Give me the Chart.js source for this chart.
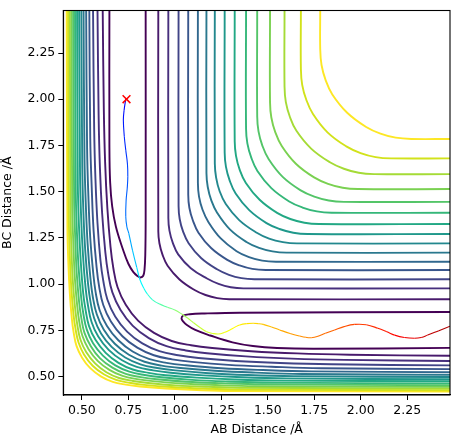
<!DOCTYPE html>
<html><head><meta charset="utf-8">
<script src="https://cdn.jsdelivr.net/npm/chart.js@4.4.1/dist/chart.umd.min.js"></script>
<style>html,body{margin:0;padding:0;background:#fff;}canvas{display:block;}</style>
</head><body>
<canvas id="c" width="465" height="445"></canvas>
<script>
// ---------------- data ----------------
const xTicks = [0.50, 0.75, 1.00, 1.25, 1.50, 1.75, 2.00, 2.25];
const yTicks = [0.50, 0.75, 1.00, 1.25, 1.50, 1.75, 2.00, 2.25];
const axisMin = 0.4, axisMax = 2.48;

const levelColors = ['#440154','#481a6c','#472f7d','#414487','#39568c','#31688e','#2a788e','#23888e',
                     '#1f988b','#22a884','#35b779','#54c568','#7ad151','#a5db36','#d2e21b','#fde725'];

// lowest contour level: two closed "U" pieces (entrance and exit valleys)
const lowEntranceX = [0.648,0.648,0.652,0.663,0.683,0.720,0.750,0.777,0.800,0.815,0.830,0.837,0.841,0.843,0.843];
const lowEntranceY = [2.48,1.75,1.55,1.42,1.31,1.19,1.11,1.065,1.043,1.036,1.045,1.08,1.16,1.35,2.48];
const lowExitX = [2.48,1.75,1.55,1.42,1.31,1.19,1.11,1.065,1.043,1.036,1.045,1.08,1.16,1.35,2.48];
const lowExitY = [0.655,0.650,0.654,0.665,0.685,0.722,0.752,0.779,0.800,0.815,0.830,0.837,0.841,0.845,0.849];

// outer branch of levels 2..16
const outerX = [
 [0.911,0.911,0.917,0.934,0.961,1.025,1.106,1.165,1.228,1.293,2.48],
 [0.965,0.965,0.971,0.989,1.018,1.086,1.173,1.235,1.301,1.369,2.48],
 [1.020,1.020,1.026,1.044,1.074,1.141,1.227,1.291,1.358,1.428,2.48],
 [1.072,1.072,1.078,1.097,1.127,1.195,1.282,1.348,1.417,1.489,2.48],
 [1.124,1.124,1.130,1.149,1.181,1.247,1.332,1.399,1.470,1.544,2.48],
 [1.170,1.170,1.177,1.196,1.228,1.296,1.385,1.453,1.525,1.600,2.48],
 [1.215,1.215,1.222,1.241,1.274,1.346,1.438,1.507,1.581,1.657,2.48],
 [1.268,1.268,1.275,1.295,1.327,1.400,1.493,1.563,1.637,1.714,2.48],
 [1.322,1.322,1.329,1.349,1.382,1.456,1.550,1.621,1.697,1.775,2.48],
 [1.383,1.383,1.390,1.411,1.444,1.519,1.615,1.687,1.764,1.843,2.48],
 [1.443,1.443,1.450,1.471,1.505,1.580,1.677,1.750,1.828,1.909,2.48],
 [1.512,1.512,1.519,1.540,1.575,1.651,1.749,1.824,1.903,1.985,2.48],
 [1.590,1.590,1.597,1.619,1.654,1.733,1.834,1.909,1.989,2.072,2.48],
 [1.678,1.678,1.685,1.707,1.743,1.821,1.922,1.999,2.080,2.164,2.48],
 [1.782,1.782,1.789,1.811,1.847,1.927,2.029,2.106,2.188,2.273,2.48]
];
const outerY = [
 [2.48,1.286,1.221,1.158,1.099,1.025,0.968,0.941,0.924,0.918,0.918],
 [2.48,1.357,1.289,1.223,1.161,1.086,1.030,1.001,0.983,0.977,0.977],
 [2.48,1.422,1.352,1.285,1.221,1.141,1.080,1.050,1.032,1.026,1.026],
 [2.48,1.485,1.413,1.344,1.278,1.195,1.131,1.101,1.082,1.076,1.076],
 [2.48,1.547,1.473,1.402,1.335,1.247,1.178,1.146,1.127,1.121,1.121],
 [2.48,1.600,1.525,1.453,1.385,1.296,1.228,1.196,1.177,1.170,1.170],
 [2.48,1.652,1.576,1.502,1.433,1.346,1.279,1.246,1.227,1.220,1.220],
 [2.48,1.711,1.634,1.560,1.490,1.400,1.330,1.298,1.278,1.271,1.271],
 [2.48,1.772,1.694,1.618,1.547,1.456,1.385,1.352,1.332,1.325,1.325],
 [2.48,1.840,1.761,1.684,1.612,1.519,1.447,1.414,1.393,1.386,1.386],
 [2.48,1.907,1.826,1.748,1.675,1.580,1.507,1.473,1.452,1.445,1.445],
 [2.48,1.983,1.901,1.822,1.747,1.651,1.577,1.542,1.521,1.514,1.514],
 [2.48,2.067,1.984,1.904,1.829,1.733,1.659,1.624,1.602,1.595,1.595],
 [2.48,2.162,2.078,1.997,1.920,1.821,1.745,1.709,1.687,1.680,1.680],
 [2.48,2.270,2.185,2.103,2.026,1.927,1.850,1.814,1.792,1.785,1.785]
];

// repulsive-wall branch of levels 2..16
const wallX = [
 [0.612,0.618,0.625,0.637,0.654,0.669,0.692,0.736,0.802,0.888,0.983,1.087,1.201,1.410,1.657,1.942,2.48],
 [0.584,0.590,0.597,0.609,0.626,0.641,0.664,0.708,0.774,0.860,0.955,1.059,1.173,1.382,1.629,1.914,2.48],
 [0.560,0.566,0.573,0.584,0.600,0.615,0.637,0.679,0.743,0.825,0.917,1.018,1.127,1.329,1.567,1.841,2.48],
 [0.540,0.545,0.553,0.563,0.579,0.593,0.615,0.656,0.718,0.798,0.887,0.985,1.092,1.288,1.519,1.786,2.48],
 [0.523,0.528,0.535,0.545,0.561,0.574,0.595,0.635,0.696,0.773,0.860,0.955,1.059,1.249,1.474,1.734,2.48],
 [0.509,0.514,0.521,0.531,0.546,0.559,0.580,0.618,0.677,0.753,0.837,0.929,1.030,1.215,1.433,1.685,2.48],
 [0.497,0.502,0.508,0.518,0.533,0.546,0.566,0.603,0.660,0.733,0.815,0.905,1.002,1.182,1.394,1.638,2.48],
 [0.485,0.490,0.496,0.506,0.520,0.533,0.552,0.588,0.644,0.716,0.795,0.883,0.978,1.153,1.360,1.598,2.48],
 [0.474,0.478,0.484,0.494,0.507,0.520,0.538,0.574,0.628,0.697,0.774,0.859,0.951,1.120,1.321,1.552,2.48],
 [0.463,0.467,0.473,0.482,0.496,0.508,0.526,0.560,0.613,0.680,0.755,0.838,0.928,1.093,1.288,1.513,2.48],
 [0.453,0.458,0.464,0.472,0.485,0.497,0.514,0.548,0.598,0.664,0.736,0.816,0.903,1.062,1.251,1.468,2.48],
 [0.444,0.448,0.454,0.462,0.475,0.486,0.503,0.536,0.585,0.648,0.719,0.796,0.881,1.036,1.219,1.431,2.48],
 [0.435,0.439,0.444,0.452,0.465,0.476,0.492,0.523,0.571,0.632,0.700,0.775,0.856,1.006,1.183,1.387,2.48],
 [0.426,0.430,0.435,0.443,0.455,0.466,0.482,0.512,0.558,0.618,0.684,0.756,0.835,0.981,1.152,1.350,2.48],
 [0.418,0.422,0.427,0.435,0.446,0.456,0.471,0.501,0.545,0.602,0.666,0.736,0.812,0.951,1.117,1.307,2.48]
];
const wallY = [
 [2.48,1.942,1.657,1.410,1.201,1.087,0.983,0.888,0.802,0.736,0.692,0.669,0.654,0.637,0.625,0.618,0.612],
 [2.48,1.914,1.629,1.382,1.173,1.059,0.955,0.860,0.774,0.708,0.664,0.641,0.626,0.609,0.597,0.590,0.584],
 [2.48,1.841,1.567,1.329,1.127,1.018,0.917,0.825,0.743,0.679,0.637,0.615,0.600,0.584,0.573,0.566,0.560],
 [2.48,1.786,1.519,1.288,1.092,0.985,0.887,0.798,0.718,0.656,0.615,0.593,0.579,0.563,0.553,0.545,0.540],
 [2.48,1.734,1.474,1.249,1.059,0.955,0.860,0.773,0.696,0.635,0.595,0.574,0.561,0.545,0.535,0.528,0.523],
 [2.48,1.685,1.433,1.215,1.030,0.929,0.837,0.753,0.677,0.618,0.580,0.559,0.546,0.531,0.521,0.514,0.509],
 [2.48,1.638,1.394,1.182,1.002,0.905,0.815,0.733,0.660,0.603,0.566,0.546,0.533,0.518,0.508,0.502,0.497],
 [2.48,1.598,1.360,1.153,0.978,0.883,0.795,0.716,0.644,0.588,0.552,0.533,0.520,0.506,0.496,0.490,0.485],
 [2.48,1.552,1.321,1.120,0.951,0.859,0.774,0.697,0.628,0.574,0.538,0.520,0.507,0.494,0.484,0.478,0.474],
 [2.48,1.513,1.288,1.093,0.928,0.838,0.755,0.680,0.613,0.560,0.526,0.508,0.496,0.482,0.473,0.467,0.463],
 [2.48,1.468,1.251,1.062,0.903,0.816,0.736,0.664,0.598,0.548,0.514,0.497,0.485,0.472,0.464,0.458,0.453],
 [2.48,1.431,1.219,1.036,0.881,0.796,0.719,0.648,0.585,0.536,0.503,0.486,0.475,0.462,0.454,0.448,0.444],
 [2.48,1.387,1.183,1.006,0.856,0.775,0.700,0.632,0.571,0.523,0.492,0.476,0.465,0.452,0.444,0.439,0.435],
 [2.48,1.350,1.152,0.981,0.835,0.756,0.684,0.618,0.558,0.512,0.482,0.466,0.455,0.443,0.435,0.430,0.426],
 [2.48,1.307,1.117,0.951,0.812,0.736,0.666,0.602,0.545,0.501,0.471,0.456,0.446,0.435,0.427,0.422,0.418]
];

// trajectory
const trajX = [0.736,0.727,0.723,0.728,0.736,0.745,0.747,0.744,0.738,0.736,0.742,0.752,0.772,0.795,0.813,0.833,0.853,0.880,0.915,0.960,1.000,1.037,1.070,1.099,1.135,1.171,1.205,1.233,1.265,1.296,1.325,1.349,1.385,1.421,1.450,1.475,1.520,1.564,1.620,1.672,1.705,1.734,1.770,1.810,1.859,1.910,1.967,2.030,2.092,2.140,2.182,2.235,2.289,2.325,2.360,2.420,2.480];
const trajY = [2.001,1.940,1.887,1.800,1.725,1.650,1.581,1.520,1.455,1.364,1.310,1.275,1.184,1.090,1.022,0.978,0.945,0.915,0.893,0.875,0.860,0.838,0.815,0.792,0.765,0.742,0.733,0.730,0.738,0.752,0.768,0.779,0.786,0.788,0.786,0.782,0.768,0.752,0.733,0.719,0.712,0.710,0.718,0.734,0.752,0.770,0.782,0.780,0.761,0.742,0.724,0.711,0.707,0.711,0.724,0.748,0.772];
const startX = [0.74], startY = [2.00];

// ---------------- styling & drawing ----------------
const FONT = {family: 'DejaVu Sans', size: 12.5};
// colour-map position (jet) at a few trajectory point indices, matched to the picture
const trajColorStops = [[0,0.12],[10,0.25],[14,0.36],[18,0.45],[21,0.53],[25,0.58],[31,0.64],[35,0.68],[39,0.73],[44,0.78],[48,0.84],[52,0.90],[56,0.96]];

function pts(xs, ys){ return xs.map((x,i)=>({x:x, y:ys[i]})); }
function jet(t){
  const c = v => Math.max(0, Math.min(1, v));
  const r = c(1.5 - Math.abs(4*t - 3)), g = c(1.5 - Math.abs(4*t - 2)), b = c(1.5 - Math.abs(4*t - 1));
  return `rgb(${Math.round(r*255)},${Math.round(g*255)},${Math.round(b*255)})`;
}
function colorPos(i){
  for (let s = 1; s < trajColorStops.length; s++) {
    const [i0,t0] = trajColorStops[s-1], [i1,t1] = trajColorStops[s];
    if (i <= i1) return t0 + (t1 - t0) * (i - i0) / (i1 - i0);
  }
  return trajColorStops[trajColorStops.length-1][1];
}

const datasets = [];
datasets.push({data: pts(startX, startY), showLine: false, pointStyle: 'crossRot', pointRadius: 5.5,
  borderColor: '#ff0000', backgroundColor: '#ff0000', pointBorderWidth: 1.5});
datasets.push({data: pts(trajX, trajY), showLine: true, pointRadius: 0, borderWidth: 1.1, tension: 0.4,
  segment: {borderColor: c => jet(colorPos((c.p0DataIndex + c.p1DataIndex) / 2))}});
const contourStyle = {showLine: true, pointRadius: 0, borderWidth: 1.9, tension: 0.4};
datasets.push(Object.assign({data: pts(lowEntranceX, lowEntranceY), borderColor: levelColors[0]}, contourStyle));
datasets.push(Object.assign({data: pts(lowExitX, lowExitY), borderColor: levelColors[0]}, contourStyle));
for (let k = 0; k < outerX.length; k++) {
  datasets.push(Object.assign({data: pts(outerX[k], outerY[k]), borderColor: levelColors[k+1]}, contourStyle));
  datasets.push(Object.assign({data: pts(wallX[k], wallY[k]), borderColor: levelColors[k+1]}, contourStyle));
}

const frame = {
  id: 'frame',
  beforeDraw(chart){ const c = chart.ctx; c.save(); c.fillStyle = '#fff'; c.fillRect(0,0,chart.width,chart.height); c.restore(); },
  afterDraw(chart){
    const a = chart.chartArea, c = chart.ctx;
    c.save(); c.strokeStyle = '#000'; c.lineWidth = 1.1;
    c.strokeRect(a.left, a.top, a.right - a.left, a.bottom - a.top);
    c.restore();
  }
};

function axis(ticksArr, title, isX){
  return {
    type: 'linear', min: axisMin, max: axisMax,
    afterBuildTicks: s => { s.ticks = ticksArr.map(v => ({value: v})); },
    afterFit: s => { if (isX) s.height = 50; else s.width = 63.3; },
    ticks: {callback: v => Number(v).toFixed(2), color: '#000', font: FONT, padding: 3, autoSkip: false, maxRotation: 0},
    grid: {display: true, drawOnChartArea: false, drawTicks: true, tickLength: 5, tickColor: '#000', tickWidth: 1},
    border: {display: true, color: '#000', width: 1.1},
    title: {display: true, text: title, color: '#000', font: FONT,
            padding: isX ? {top: 0, bottom: 7.5} : {top: 0.5, bottom: 0}}
  };
}

new Chart(document.getElementById('c').getContext('2d'), {
  type: 'scatter',
  data: {datasets},
  options: {
    responsive: false, animation: false, devicePixelRatio: 1,
    layout: {padding: {left: 0, top: 10.3, right: 15, bottom: 0}},
    plugins: {legend: {display: false}, tooltip: {enabled: false}},
    scales: {x: axis(xTicks, 'AB Distance /Å', true), y: axis(yTicks, 'BC Distance /Å', false)}
  },
  plugins: [frame]
});
</script>
</body></html>
